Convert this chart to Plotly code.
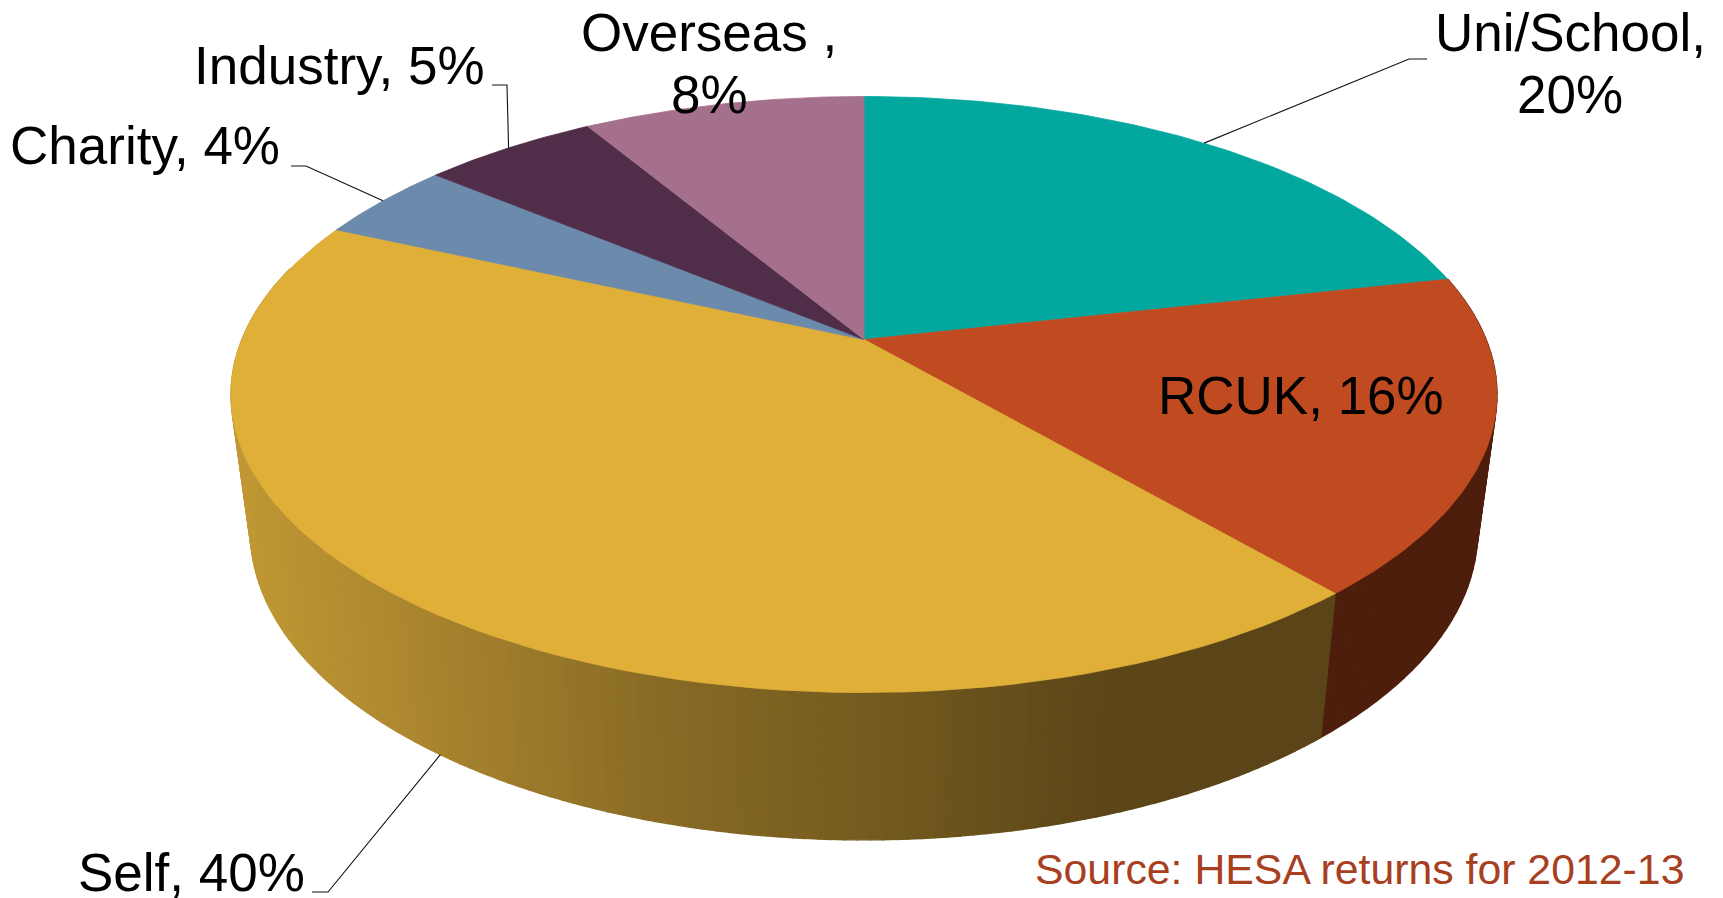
import numpy as np
import plotly.graph_objects as go

categories = ["Uni/School", "RCUK", "Self", "Charity", "Industry", "Overseas"]
values = [20, 16, 40, 4, 5, 8]
top_colors = ["#02A89D", "#C04B21", "#DFAF38", "#6C8AAB", "#502D48", "#A4708C"]
label_lines = [
    ["Uni/School,", "20%"],
    ["RCUK, 16%"],
    ["Self, 40%"],
    ["Charity, 4%"],
    ["Industry, 5%"],
    ["Overseas ,", "8%"],
]
source_text = "Source: HESA returns for 2012-13"

W, H = 1723, 898
CX = 864
K = 0.1846
TOP_Y0, TOP_F, TOP_G = 339.5, 622.1, 287.9
BOT_Y0, BOT_F, BOT_G = 475.0, 603.0, 297.5
WALL_DARK = "#4E1E0D"
GRAD_X = [250, 440, 660, 880, 1100, 1320]
GRAD_RGB = [(192, 152, 52), (168, 132, 46), (137, 107, 37), (115, 90, 30), (92, 70, 24), (90, 68, 24)]


def rim(theta, y0, f, g):
    u, v = np.sin(theta), -np.cos(theta)
    d = 1 - K * v
    return CX + f * u / d, y0 + g * v / d


def top_pt(theta):
    return rim(theta, TOP_Y0, TOP_F, TOP_G)


def bot_pt(theta):
    return rim(theta, BOT_Y0, BOT_F, BOT_G)


vals = np.array(values, dtype=float)
edges = np.concatenate([[0], np.cumsum(vals)]) / vals.sum() * 2 * np.pi
mids = (edges[:-1] + edges[1:]) / 2

fig = go.Figure()


def poly(xs, ys, color, name, lw=0.8):
    fig.add_trace(go.Scatter(
        x=list(xs), y=list(ys), mode="lines", fill="toself", fillcolor=color,
        line=dict(color=color, width=lw), showlegend=False, hoverinfo="skip", name=name,
    ))


def wall_quads(a, b, step_deg, colorfn, name):
    n = max(2, int(np.degrees(b - a) / step_deg))
    th = np.linspace(a, b, n + 1)
    for i in range(n):
        x1, y1 = top_pt(th[i])
        x2, y2 = top_pt(th[i + 1])
        x3, y3 = bot_pt(th[i + 1])
        x4, y4 = bot_pt(th[i])
        poly([x1, x2, x3, x4, x1], [y1, y2, y3, y4, y1], colorfn((x3 + x4) / 2), name, lw=1.4)


def self_color(x):
    rgb = [np.interp(x, GRAD_X, [c[j] for c in GRAD_RGB]) for j in range(3)]
    return "rgb(%d,%d,%d)" % tuple(int(round(c)) for c in rgb)


# side walls: flat dark RCUK slice, stepped gradient for Self
wall_quads(edges[1], edges[2], 1.5, lambda x: WALL_DARK, "RCUK wall")
wall_quads(edges[2], np.radians(285), 1.0, self_color, "Self wall")

# top face
for i, cat in enumerate(categories):
    th = np.linspace(edges[i], edges[i + 1], 80)
    px, py = top_pt(th)
    poly([CX, *px, CX], [TOP_Y0, *py, TOP_Y0], top_colors[i], cat)


# leader lines, from each slice's mid-angle on the rim
def leader(xs, ys):
    fig.add_trace(go.Scatter(x=xs, y=ys, mode="lines", line=dict(color="#111111", width=1.1),
                             showlegend=False, hoverinfo="skip"))


ux, uy = top_pt(mids[0])
leader([ux, 1409, 1427], [uy, 59, 59])
cx_, cy_ = top_pt(mids[3])
leader([cx_, 306, 291], [cy_, 166, 166])
ix, iy = top_pt(mids[4])
leader([ix, 507, 492], [iy, 85, 85])
sx, sy = bot_pt(mids[2])
leader([sx, 328, 312], [sy, 892, 892])

FONT = "Liberation Sans, Arial, sans-serif"
LABEL_POS = [
    (1570, [32, 94]),
    (1301, [395]),
    (191, [872]),
    (145, [145]),
    (339, [65]),
    (709, [32, 94]),
]
annotations = []
for lines, (lx, lys) in zip(label_lines, LABEL_POS):
    for line, ly in zip(lines, lys):
        annotations.append(dict(x=lx, y=ly, text=line, showarrow=False, xanchor="center", yanchor="middle",
                                font=dict(family=FONT, size=53, color="#000000")))
annotations.append(dict(x=1359, y=869, text=source_text, showarrow=False, xanchor="center", yanchor="middle",
                        font=dict(family=FONT, size=42.8, color="#A8401F")))

fig.update_layout(
    width=W, height=H, margin=dict(l=0, r=0, t=0, b=0), autosize=False,
    paper_bgcolor="white", plot_bgcolor="white", showlegend=False,
    xaxis=dict(range=[0, W], visible=False, fixedrange=True),
    yaxis=dict(range=[H, 0], visible=False, fixedrange=True),
    annotations=annotations,
)
fig.write_html("out.html", config=dict(displayModeBar=False),
               post_script="document.body.style.margin='0';document.documentElement.style.overflow='hidden';")
